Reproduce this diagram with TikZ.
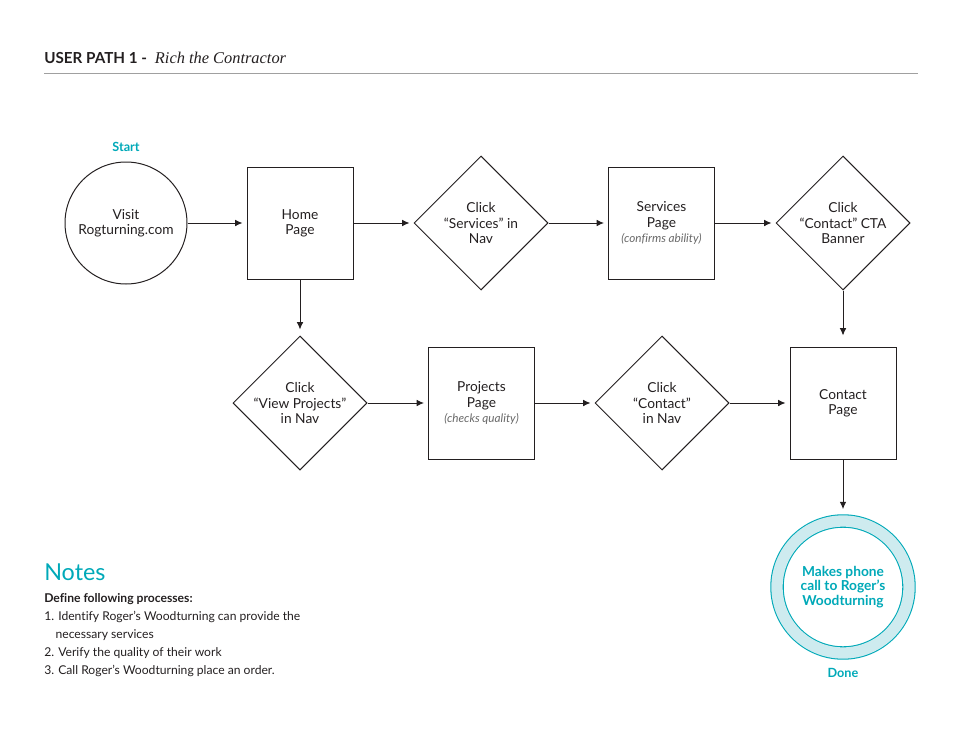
\documentclass[tikz,border=0pt]{standalone}
\usepackage{fontspec}
\setmainfont{Lato}[Ligatures=CommonOff]
\newfontfamily\titleserif{Liberation Serif}
\usetikzlibrary{arrows.meta,shapes.geometric}
\definecolor{tealdk}{RGB}{0,169,184}
\definecolor{teallt}{RGB}{206,235,239}
\definecolor{ink}{RGB}{35,31,32}
\definecolor{notegray}{RGB}{105,105,105}
\newcommand{\nodefont}{\fontsize{10.3}{11.4}\selectfont}
\newcommand{\subnote}[1]{{\color{notegray}\fontsize{8.8}{10.5}\selectfont\itshape #1}}
\tikzset{
	>={Latex[length=5.5pt,width=5pt]},
	page/.style={
		rectangle,
		draw=ink, line width=0.75pt,
		minimum width=79.5pt,
		minimum height=84pt,
		inner sep=0pt,
		align=center,
		text=ink,
		font=\nodefont},
	click/.style={
		diamond,
		draw=ink, line width=0.75pt,
		minimum width=100.5pt,
		minimum height=100.5pt,
		inner sep=0pt},
	clicktxt/.style={
		align=center,
		text=ink,
		font=\nodefont},
	visit/.style={
		circle,
		draw=ink, line width=0.75pt,
		minimum size=91.5pt,
		inner sep=0pt,
		align=center,
		text=ink,
		font=\nodefont},
	goal/.style={
		circle,
		draw=tealdk, line width=0.8pt,
		double=teallt,
		double distance=8.5pt,
		fill=white,
		minimum size=99pt,
		inner sep=0pt,
		align=center,
		text=tealdk,
		font=\fontsize{10.3}{11}\selectfont\bfseries},
	tag/.style={
		text=tealdk,
		font=\fontsize{9.5}{11}\selectfont\bfseries},
	arr/.style={
		->,
		ink,
		line width=0.75pt,
		shorten >=3pt}
}

\begin{document}
\begin{tikzpicture}[x=0.75pt,y=0.75pt,yscale=-1,xscale=1]
\useasboundingbox (0,0) rectangle (960,742);

% Title
\node (title) [anchor=base west, inner sep=0pt, text=ink] at (44,64)
	{\fontsize{11.4}{12}\selectfont\bfseries USER PATH 1 -\hspace{6pt}{\titleserif\mdseries\itshape\fontsize{12.3}{12}\selectfont Rich the Contractor}};
\draw [color={rgb, 255:red, 160; green, 160; blue, 160 }, line width=0.75] (44,74) -- (918,74) ;

% Row 1
\node (start) [visit] at (126,223) {Visit\\Rogturning.com};
\node (startlbl) [tag] at (126,147) {Start};
\node (home) [page] at (300,223) {Home\\Page};
\node (navserv) [click, label={[clicktxt]center:Click\\“Services” in\\Nav}] at (481,223) {};
\node (services) [page] at (661.5,223) {Services\\Page\\\subnote{(confirms ability)}};
\node (navcta) [click, label={[clicktxt]center:Click\\“Contact” CTA\\Banner}] at (843,223) {};

% Row 2
\node (navproj) [click, label={[clicktxt]center:Click\\“View Projects”\\in Nav}] at (300,403) {};
\node (projects) [page] at (481.5,403) {Projects\\Page\\\subnote{(checks quality)}};
\node (navcont) [click, label={[clicktxt]center:Click\\“Contact”\\in Nav}] at (662,403) {};
\node (contact) [page] at (843,403) {Contact\\Page};

% End
\node (done) [goal] at (843,587) {Makes phone\\call to Roger’s\\Woodturning};
\node (donelbl) [tag] at (843,673) {Done};

% Arrows
\draw [arr] (start) -- (home);
\draw [arr] (home) -- (navserv);
\draw [arr] (navserv) -- (services);
\draw [arr] (services) -- (navcta);
\draw [arr, shorten >=8.25pt] (navcta) -- (contact);
\draw [arr, shorten >=4.5pt] (home) -- (navproj);
\draw [arr] (navproj) -- (projects);
\draw [arr] (projects) -- (navcont);
\draw [arr] (navcont) -- (contact);
\draw [arr, shorten >=8.5pt] (contact) -- (done);

% Notes
\node (notes) [anchor=base west, inner sep=0pt, text=tealdk] at (44,580)
	{\fontsize{17.5}{20}\selectfont Notes};
\node (notelist) [anchor=north west, inner sep=0pt, align=left, text=ink,
	font=\fontsize{9.1}{13.5}\selectfont] at (44,593)
	{\bfseries Define following processes:\\
	1. Identify Roger’s Woodturning can provide the\\
	\hspace*{8.5pt}necessary services\\
	2. Verify the quality of their work\\
	3. Call Roger’s Woodturning place an order.};
\end{tikzpicture}
\end{document}
